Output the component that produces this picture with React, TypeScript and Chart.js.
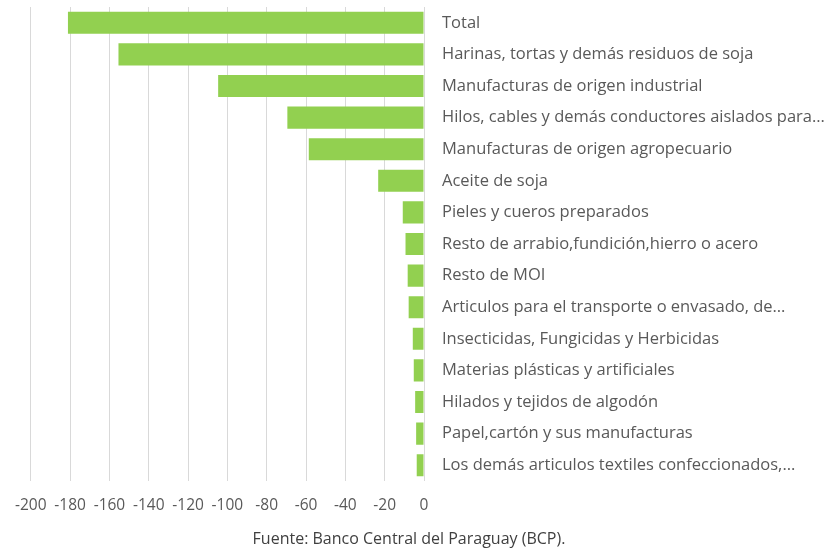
import React, { useEffect, useRef } from "react";
import { Chart, registerables } from "chart.js";

Chart.register(...registerables);

const categories: string[] = [
  "Total",
  "Harinas, tortas y demás residuos de soja",
  "Manufacturas de origen industrial",
  "Hilos, cables y demás conductores aislados para…",
  "Manufacturas de origen agropecuario",
  "Aceite de soja",
  "Pieles y cueros preparados",
  "Resto de arrabio,fundición,hierro o acero",
  "Resto de MOI",
  "Articulos para el transporte o envasado, de…",
  "Insecticidas, Fungicidas y Herbicidas",
  "Materias plásticas y artificiales",
  "Hilados y tejidos de algodón",
  "Papel,cartón y sus manufacturas",
  "Los demás articulos textiles confeccionados,…",
];

const values: number[] = [
  -181.1, -155.4, -104.7, -69.5, -58.6, -23.3, -10.8, -9.4, -8.3, -7.8, -5.7, -5.2, -4.5, -4.0, -3.7,
];

const xMin = -200;
const xMax = 0;
const xStep = 20;
const sourceText = "Fuente: Banco Central del Paraguay (BCP).";

export default function App() {
  const ref = useRef<HTMLCanvasElement | null>(null);

  useEffect(() => {
    if (!ref.current) return;
    const chart = new Chart(ref.current, {
      type: "bar",
      data: {
        labels: categories,
        datasets: [
          {
            data: values,
            backgroundColor: "#92D050",
            borderWidth: 0,
            barPercentage: 0.7,
            categoryPercentage: 1,
          },
        ],
      },
      options: {
        indexAxis: "y",
        animation: false,
        responsive: false,
        maintainAspectRatio: false,
        layout: { padding: { left: 30, top: 7, right: 0, bottom: 31 } },
        plugins: {
          legend: { display: false },
          tooltip: { enabled: false },
          title: { display: false },
        },
        scales: {
          x: {
            type: "linear",
            min: xMin,
            max: xMax,
            ticks: {
              stepSize: xStep,
              color: "#595959",
              font: { family: "Open Sans", size: 15.5 },
              padding: 15,
              maxRotation: 0,
            },
            grid: { color: "#d9d9d9", lineWidth: 1, drawTicks: false },
            border: { display: false },
            afterFit: (s: any) => {
              s.height = 40;
            },
          },
          y: {
            position: "right",
            ticks: {
              color: "#595959",
              font: { family: "Open Sans", size: 16.5, lineHeight: 0.85 },
              padding: 0,
              autoSkip: false,
            },
            grid: { display: false, drawTicks: true, tickLength: 18 },
            border: { display: false },
            afterFit: (s: any) => {
              s.width = 402;
            },
          },
        },
      },
    });
    return () => chart.destroy();
  }, []);

  return (
    <div style={{ position: "fixed", left: 0, top: 0, width: 826, height: 552, background: "#fff" }}>
      <canvas ref={ref} width={826} height={552} style={{ display: "block" }} />
      <div
        style={{
          position: "absolute",
          left: 0,
          top: 528,
          width: 818,
          textAlign: "center",
          fontFamily: "'Open Sans', sans-serif",
          fontSize: 16,
          lineHeight: "20px",
          color: "#404040",
        }}
      >
        {sourceText}
      </div>
    </div>
  );
}
